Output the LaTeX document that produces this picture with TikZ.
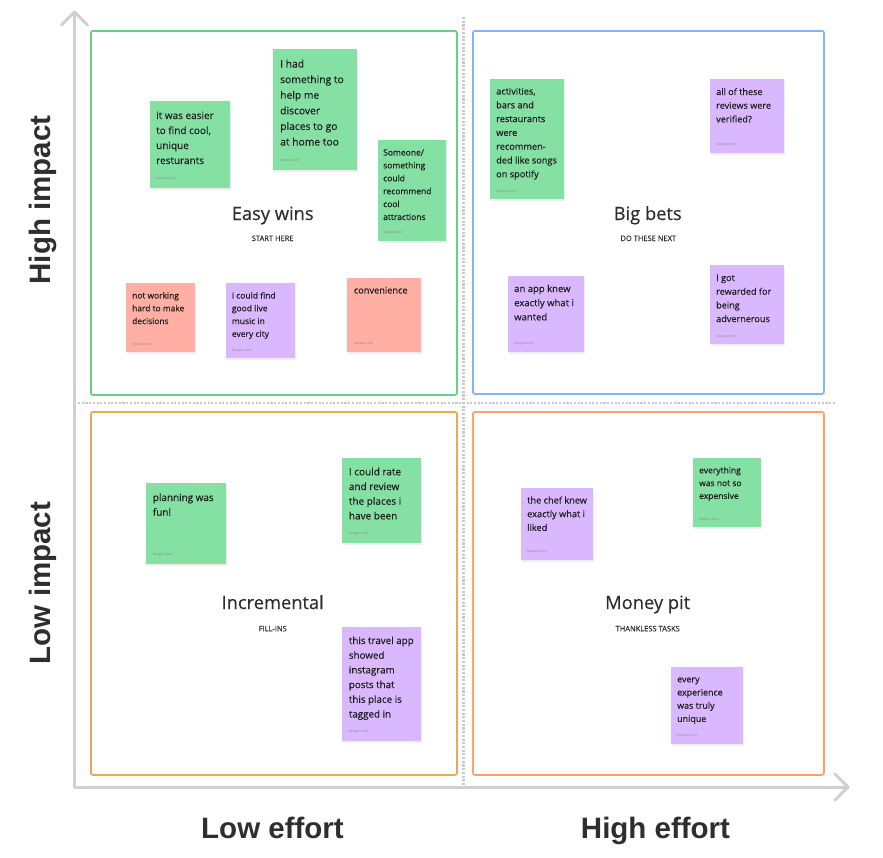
\documentclass[tikz,border=0pt]{standalone}
\usepackage{fontspec}
\setmainfont{Open Sans}[FakeBold=0.3]
\newfontfamily\plainfont{Open Sans}
\newfontfamily\axisfont{Liberation Sans}
\usetikzlibrary{shadows}
\definecolor{stgreen}{HTML}{85E0A3}
\definecolor{stred}{HTML}{FFAFA3}
\definecolor{stpurple}{HTML}{D9B8FF}
\definecolor{qgreen}{HTML}{66D17F}
\definecolor{qblue}{HTML}{86B2F7}
\definecolor{qorange}{HTML}{E9AB4D}
\definecolor{qsalmon}{HTML}{FFA16B}
\definecolor{axisgrey}{HTML}{D0D0D0}
\definecolor{sepgrey}{HTML}{C8C8C8}
\definecolor{ink}{HTML}{1E1E1E}
\definecolor{titleink}{HTML}{2E2E2E}
\definecolor{authgrey}{HTML}{8C8C8C}
\newcommand{\fs}[2]{\fontsize{#1}{#2}\selectfont}
\newcommand{\lines}[1]{\parbox[t]{100pt}{#1}}
\begin{document}
\begin{tikzpicture}[x=1pt,y=-1pt,
  sticky/.style={rectangle, anchor=north west, inner sep=0pt, draw=none,
    drop shadow={opacity=0.13, shadow xshift=0.3pt, shadow yshift=-1.3pt}},
  stxt/.style={anchor=base west, inner sep=0pt, text=ink},
  auth/.style={anchor=base west, inner sep=0pt, text=authgrey, font=\plainfont\fs{3.4}{4}},
  qbox/.style={rectangle, anchor=north west, inner sep=0pt, line width=1.8pt, rounded corners=2pt},
  qtitle/.style={anchor=base, inner sep=0pt, text=titleink, font=\fs{18.3}{22}},
  qsub/.style={anchor=base, inner sep=0pt, text=titleink, font=\fs{7.5}{9}},
  axislabel/.style={anchor=base, inner sep=0pt, text=titleink, font=\axisfont\bfseries\fs{29.5}{34}},
  axisline/.style={draw=axisgrey, line width=3pt, line cap=round, line join=round},
  sepline/.style={draw=sepgrey, line width=2.6pt, dash pattern=on 2.1pt off 1.6pt}
]
\fill[white] (0,0) rectangle (883,857);
\useasboundingbox (0,0) rectangle (883,857);

% separators
\coordinate (vtop) at (463.5,17);
\coordinate (vbot) at (463.5,786);
\coordinate (hleft) at (78,403);
\coordinate (hright) at (835,403);
\draw[sepline] (vtop) -- (vbot);
\draw[sepline] (hleft) -- (hright);

% axes
\coordinate (origin) at (74.5,787);
\coordinate (ytip) at (74.5,12);
\coordinate (xtip) at (848,787);
\draw[axisline] (origin) -- (ytip);
\draw[axisline] ([shift={(-13,13)}]ytip) -- (ytip) -- ([shift={(13,13)}]ytip);
\draw[axisline] (origin) -- (xtip);
\draw[axisline] ([shift={(-13,-13)}]xtip) -- (xtip) -- ([shift={(-13,13)}]xtip);

% quadrants
\node[qbox, draw=qgreen, minimum width=366pt, minimum height=364pt] (q1) at (90,30) {};
\node[qbox, draw=qblue, minimum width=351pt, minimum height=363pt] (q2) at (472,30) {};
\node[qbox, draw=qorange, minimum width=366pt, minimum height=363pt] (q3) at (90,411) {};
\node[qbox, draw=qsalmon, minimum width=351pt, minimum height=363pt] (q4) at (472,411) {};

\node[qtitle] (t1) at (272.7,220) {Easy wins};
\node[qsub] (u1) at (272.7,241) {START HERE};
\node[qtitle] (t2) at (647.7,220) {Big bets};
\node[qsub] (u2) at (648.3,241) {DO THESE NEXT};
\node[qtitle] (t3) at (272.7,609) {Incremental};
\node[qsub] (u3) at (272.7,631.3) {FILL-INS};
\node[qtitle] (t4) at (647.7,609) {Money pit};
\node[qsub] (u4) at (647.7,631.3) {THANKLESS TASKS};

% axis labels
\node[axislabel, rotate=90] (hi) at (50,200) {High impact};
\node[axislabel, rotate=90] (lo) at (50,583) {Low impact};
\node[axislabel] (le) at (272.5,838) {Low effort};
\node[axislabel] (he) at (655.5,838) {High effort};

% stickies: Easy wins
\node[sticky, fill=stgreen, minimum width=80pt, minimum height=87pt] (s1) at (150,101) {};
\node[stxt, font=\fs{10}{15}] (s1t) at (156,119) {\lines{it was easier\\to find cool,\\unique\\resturants}};
\node[auth] (s1a) at (156,179.5) {Keegan Lind};

\node[sticky, fill=stgreen, minimum width=84pt, minimum height=121pt] (s2) at (273,49) {};
\node[stxt, font=\fs{10.3}{15.6}] (s2t) at (280,67.5) {\lines{I had\\something to\\help me\\discover\\places to go\\at home too}};
\node[auth] (s2a) at (280,161) {Keegan Lind};

\node[sticky, fill=stgreen, minimum width=68pt, minimum height=101pt] (s3) at (378,140) {};
\node[stxt, font=\fs{8.5}{12.9}] (s3t) at (383,155.5) {\lines{Someone/\\something\\could\\recommend\\cool\\attractions}};
\node[auth] (s3a) at (383,233.5) {Keegan Lind};

\node[sticky, fill=stred, minimum width=69pt, minimum height=69pt] (s4) at (126,283) {};
\node[stxt, font=\fs{8.4}{12.8}] (s4t) at (132,298.5) {\lines{not working\\hard to make\\decisions}};
\node[auth] (s4a) at (132,345) {Keegan Lind};

\node[sticky, fill=stpurple, minimum width=69pt, minimum height=75pt] (s5) at (226,283) {};
\node[stxt, font=\fs{8.5}{12.8}] (s5t) at (231.7,298.5) {\lines{i could find\\good live\\music in\\every city}};
\node[auth] (s5a) at (231.7,351) {Keegan Lind};

\node[sticky, fill=stred, minimum width=74pt, minimum height=74pt] (s6) at (347,278) {};
\node[stxt, font=\fs{9.2}{13.8}] (s6t) at (353.7,293.5) {\lines{convenience}};
\node[auth] (s6a) at (353.7,344) {Keegan Lind};

% Big bets
\node[sticky, fill=stgreen, minimum width=74pt, minimum height=120pt] (s7) at (490,79) {};
\node[stxt, font=\fs{9.2}{13.8}] (s7t) at (496,94.5) {\lines{activities,\\bars and\\restaurants\\were\\recommen-\\ded like songs\\on spotify}};
\node[auth] (s7a) at (496,192) {Keegan Lind};

\node[sticky, fill=stpurple, minimum width=74pt, minimum height=74pt] (s8) at (710,79) {};
\node[stxt, font=\fs{9.1}{13.7}] (s8t) at (716,95) {\lines{all of these\\reviews were\\verified?}};
\node[auth] (s8a) at (716,145.3) {Keegan Lind};

\node[sticky, fill=stpurple, minimum width=76pt, minimum height=76pt] (s9) at (508,276) {};
\node[stxt, font=\fs{9.5}{14.2}] (s9t) at (514,292) {\lines{an app knew\\exactly what i\\wanted}};
\node[auth] (s9a) at (514,344) {Keegan Lind};

\node[sticky, fill=stpurple, minimum width=74pt, minimum height=79pt] (s10) at (710,265) {};
\node[stxt, font=\fs{9.1}{13.7}] (s10t) at (716,281) {\lines{I got\\rewarded for\\being\\advernerous}};
\node[auth] (s10a) at (716,337) {Keegan Lind};

% Incremental
\node[sticky, fill=stgreen, minimum width=80pt, minimum height=81pt] (s11) at (146,483) {};
\node[stxt, font=\fs{9.9}{14.7}] (s11t) at (152.7,501) {\lines{planning was\\fun!}};
\node[auth] (s11a) at (152.7,555.7) {Keegan Lind};

\node[sticky, fill=stgreen, minimum width=79pt, minimum height=85pt] (s12) at (342,458) {};
\node[stxt, font=\fs{10}{14.7}] (s12t) at (348.7,475.3) {\lines{I could rate\\and review\\the places i\\have been}};
\node[auth] (s12a) at (348.7,534.7) {Keegan Lind};

\node[sticky, fill=stpurple, minimum width=79pt, minimum height=114pt] (s13) at (342,627) {};
\node[stxt, font=\fs{9.8}{14.7}] (s13t) at (348.7,644) {\lines{this travel app\\showed\\instagram\\posts that\\this place is\\tagged in}};
\node[auth] (s13a) at (348.7,732.7) {Keegan Lind};

% Money pit
\node[sticky, fill=stpurple, minimum width=72pt, minimum height=72pt] (s14) at (521,488) {};
\node[stxt, font=\fs{9.2}{13.7}] (s14t) at (527,503.5) {\lines{the chef knew\\exactly what i\\liked}};
\node[auth] (s14a) at (527,552.7) {Keegan Lind};

\node[sticky, fill=stgreen, minimum width=68pt, minimum height=69pt] (s15) at (693,458) {};
\node[stxt, font=\fs{8.5}{12.8}] (s15t) at (699,473.3) {\lines{everything\\was not so\\expensive}};
\node[auth] (s15a) at (699,520) {Keegan Lind};

\node[sticky, fill=stpurple, minimum width=72pt, minimum height=77pt] (s16) at (671,667) {};
\node[stxt, font=\fs{8.9}{13.2}] (s16t) at (677,682.3) {\lines{every\\experience\\was truly\\unique}};
\node[auth] (s16a) at (677,736.3) {Keegan Lind};
\end{tikzpicture}
\end{document}
